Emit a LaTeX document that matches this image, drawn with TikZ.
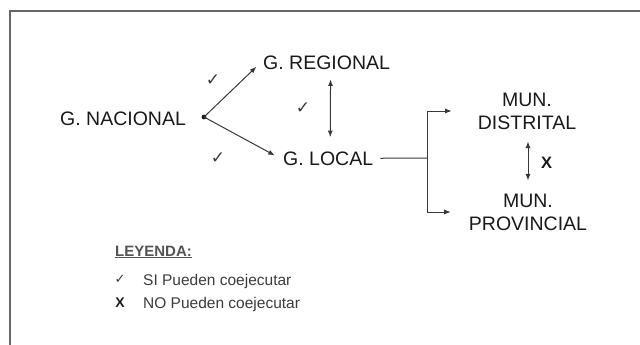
\documentclass[tikz,border=0pt]{standalone}
\usepackage{fontspec}
\setmainfont{Liberation Sans}
\newfontfamily\symfont{DejaVu Sans}
\usetikzlibrary{arrows.meta}
\definecolor{ink}{gray}{0.1}
\definecolor{lineink}{gray}{0.22}
\definecolor{frameink}{gray}{0.4}
\tikzset{
  lbl/.style={font=\fontsize{19.5}{23}\selectfont, text=ink, inner sep=3pt},
  munlbl/.style={lbl, align=center},
  leg/.style={font=\fontsize{15.5}{18}\selectfont, text=ink!85, inner sep=0pt, anchor=base west},
  tick/.style={font=\symfont\fontsize{17}{19}\selectfont, text=ink!85, inner sep=0pt},
  conn/.style={draw=lineink, line width=1pt},
  arr/.style={conn, -{Latex[length=6.5pt,width=5pt]}},
  dbl/.style={conn, {Latex[length=6.5pt,width=5pt]}-{Latex[length=6.5pt,width=5pt]}},
}
\begin{document}
\begin{tikzpicture}[x=1pt,y=-1pt]
\useasboundingbox (0,0) rectangle (640,345);
% frame
\draw[frameink, line width=1.3pt] (640,11) -- (10,11) -- (10,345);

% main nodes
\node[lbl, anchor=base west] (nac) at (57,125) {G. NACIONAL};
\node[lbl, anchor=base west] (reg) at (260,70) {G. REGIONAL};
\node[lbl, anchor=base west] (loc) at (280,165) {G. LOCAL};
\node[munlbl] (dist) at (527,111) {MUN.\\DISTRITAL};
\node[munlbl] (prov) at (528,212) {MUN.\\PROVINCIAL};

% hub
\coordinate (hub) at (204,117);
\fill[ink] (hub) circle (2.4pt);
\draw[arr, shorten >=5pt] (hub) -- (reg.west);
\draw[arr, shorten >=6pt] (hub) -- (loc.west);

% regional <-> local
\draw[dbl, shorten <=6pt, shorten >=11pt] ([xshift=4pt]reg.south) -- ([xshift=2pt]loc.north);

% local to bracket
\coordinate (br) at (427,158);
\draw[conn, shorten <=4pt] (loc.east) -- (br);
\draw[arr, shorten >=23pt] (br) |- (dist.west);
\draw[arr, shorten >=15pt] (br) |- (prov.west);

% distrital <-> provincial
\draw[dbl, shorten <=9pt, shorten >=10pt] ([xshift=1pt]dist.south) -- (prov.north);
\node[font=\bfseries\fontsize{16.5}{18}\selectfont, text=ink, inner sep=0pt, anchor=base west] (xlbl) at (541,168) {X};

% check marks
\node[tick] (t1) at (213,80) {✓};
\node[tick] (t2) at (303,108) {✓};
\node[tick] (t3) at (218,158) {✓};

% legend
\node[font=\bfseries\fontsize{15}{18}\selectfont, text=ink!75, inner sep=0pt, anchor=base west] (ley) at (115,256) {\underline{LEYENDA:}};
\node[tick, font=\symfont\fontsize{13}{15}\selectfont] (lt) at (120,279) {✓};
\node[leg] (l1) at (143,285) {SI Pueden coejecutar};
\node[font=\bfseries\fontsize{14}{16}\selectfont, text=ink, inner sep=0pt, anchor=base] (lx) at (120,307) {X};
\node[leg] (l2) at (143,308) {NO Pueden coejecutar};
\end{tikzpicture}
\end{document}
